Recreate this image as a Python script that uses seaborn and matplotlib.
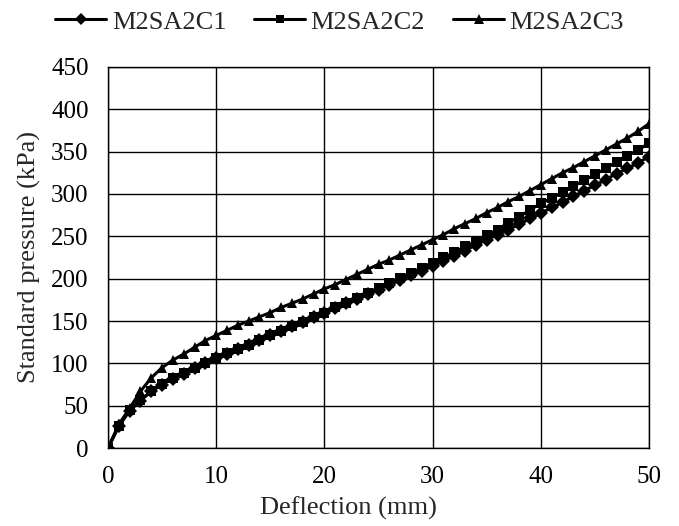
import numpy as np
import pandas as pd
import matplotlib
matplotlib.use('Agg')
import matplotlib.pyplot as plt
import seaborn as sns

# deflection (mm), one reading per mm
deflection = list(range(0, 51))

# standard pressure (kPa)
m2sa2c1 = [0, 26, 44, 56, 67, 75, 82, 88, 94, 100, 106, 111, 117, 122, 128, 133, 138,
           144, 149, 155, 160, 165, 171, 176, 182, 187, 193, 198, 204, 209, 215, 221,
           227, 233, 240, 246, 252, 258, 264, 271, 277, 284, 290, 297, 304, 310, 317,
           324, 330, 337, 344]
m2sa2c2 = [0, 26, 45, 57, 67, 76, 83, 89, 95, 101, 106, 112, 117, 122, 128, 133, 138,
           144, 149, 155, 160, 166, 171, 177, 183, 189, 195, 201, 207, 213, 219, 225,
           231, 238, 244, 251, 258, 266, 273, 281, 289, 295, 302, 309, 316, 323, 330,
           338, 345, 352, 360]
m2sa2c3 = [0, 28, 47, 67, 83, 95, 104, 111, 119, 127, 133, 139, 145, 150, 155, 160, 166,
           171, 176, 182, 188, 193, 199, 205, 211, 217, 222, 228, 234, 240, 246, 252,
           259, 265, 271, 278, 284, 291, 297, 304, 311, 318, 325, 331, 338, 345, 352,
           359, 366, 374, 383]

series_names = ['M2SA2C1', 'M2SA2C2', 'M2SA2C3']

df = pd.DataFrame({
    'Deflection': deflection * 3,
    'Pressure': m2sa2c1 + m2sa2c2 + m2sa2c3,
    'Serie': [s for s in series_names for _ in deflection],
})

sns.set_style('white')
plt.rcParams['font.family'] = ['Liberation Serif', 'DejaVu Serif']

fig, ax = plt.subplots(figsize=(6.79, 5.26), dpi=100)
fig.subplots_adjust(left=0.159, right=0.956, top=0.873, bottom=0.148)

sns.lineplot(data=df, x='Deflection', y='Pressure', hue='Serie', style='Serie',
             palette=['black'] * 3, markers=['D', 's', '^'], dashes=False,
             markersize=7, markeredgewidth=0, linewidth=2.2, ax=ax, legend=True)

ax.set_xlim(0, 50)
ax.set_ylim(0, 450)
ax.set_xticks(np.arange(0, 51, 10))
ax.set_yticks(np.arange(0, 451, 50))
ax.grid(True, color='black', linewidth=1)
for sp in ax.spines.values():
    sp.set_color('black')
    sp.set_linewidth(1)
ax.tick_params(length=0, labelsize=18, colors='black')
ax.tick_params(axis='y', pad=14)
ax.tick_params(axis='x', pad=13)
ax.set_xlabel('Deflection (mm)', fontsize=19, labelpad=6, x=0.445)
ax.set_ylabel('Standard pressure (kPa)', fontsize=19, labelpad=7)

handles, labels = ax.get_legend_handles_labels()
ax.get_legend().remove()
leg = fig.legend(handles, labels, loc='center', bbox_to_anchor=(0.5, 1 - 22 / 526), ncol=3,
                 frameon=False, fontsize=19, handlelength=1.95, handletextpad=0.2,
                 columnspacing=1.05, borderaxespad=0, borderpad=0)
for h, ms in zip(leg.legend_handles, [6, 6, 7.5]):
    h.set_markersize(ms)

fig.savefig('out.png', dpi=100)
